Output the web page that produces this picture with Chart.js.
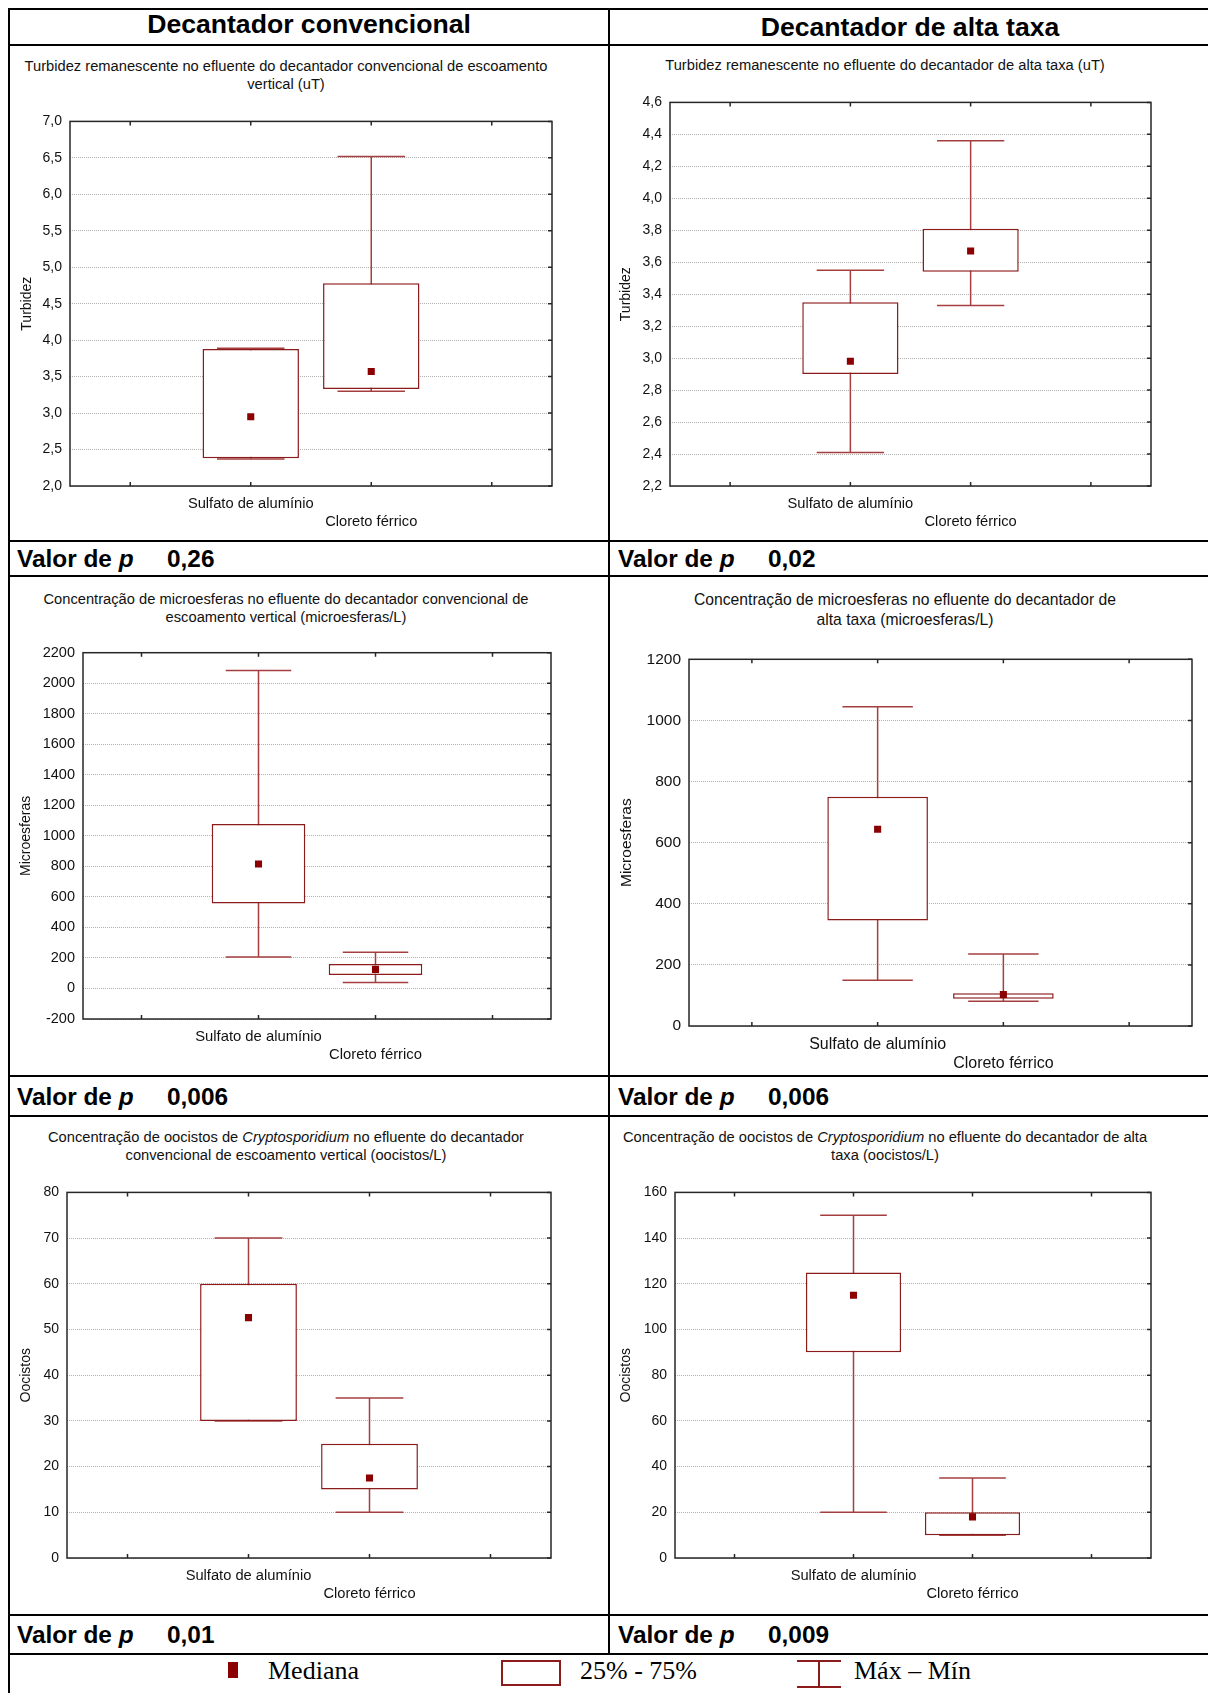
<!DOCTYPE html>
<html lang="pt">
<head>
<meta charset="utf-8">
<title>Decantador convencional x decantador de alta taxa</title>
<script src="https://cdn.jsdelivr.net/npm/chart.js@4.4.1/dist/chart.umd.min.js"></script>
<style>
  html, body { margin: 0; background: #fff; }
  body { position: relative; width: 1208px; height: 1693px; overflow: hidden;
         font-family: "Liberation Sans", Arial, sans-serif; color: #000; }
  .lh { position: absolute; left: 8px; right: 0; height: 2px; background: #000; }
  .lv { position: absolute; width: 2px; background: #000; }
  .cab { position: absolute; font-size: 26.6px; font-weight: bold; line-height: 26px;
         white-space: nowrap; transform: translateX(-50%); }
  .tit { position: absolute; font-size: 14.7px; line-height: 18px; text-align: center;
         white-space: nowrap; transform: translateX(-50%); color: #111; }
  .pv { position: absolute; font-size: 24.4px; font-weight: bold; line-height: 24px; white-space: nowrap; }
  .leg { position: absolute; font-family: "Liberation Serif", "Times New Roman", serif;
         font-size: 26px; line-height: 26px; white-space: nowrap; }
  canvas { position: absolute; }
</style>
</head>
<body>

<!-- grade da tabela -->
<div class="lh" style="top:8px"></div>
<div class="lh" style="top:44px"></div>
<div class="lh" style="top:540px"></div>
<div class="lh" style="top:575px"></div>
<div class="lh" style="top:1075px"></div>
<div class="lh" style="top:1115px"></div>
<div class="lh" style="top:1614px"></div>
<div class="lh" style="top:1653px"></div>
<div class="lv" style="left:8px; top:8px; height:1685px"></div>
<div class="lv" style="left:608px; top:8px; height:1647px"></div>

<div class="cab" style="left:309px; top:11px">Decantador convencional</div>
<div class="cab" style="left:910px; top:14px">Decantador de alta taxa</div>

<div class="tit" style="left:286px; top:57px">Turbidez remanescente no efluente do decantador convencional de escoamento<br>vertical (uT)</div>
<div class="tit" style="left:885px; top:56px">Turbidez remanescente no efluente do decantador de alta taxa (uT)</div>
<div class="tit" style="left:286px; top:590px">Concentração de microesferas no efluente do decantador convencional de<br>escoamento vertical (microesferas/L)</div>
<div class="tit" style="left:905px; top:590px; font-size:15.7px; line-height:20px">Concentração de microesferas no efluente do decantador de<br>alta taxa (microesferas/L)</div>
<div class="tit" style="left:286px; top:1128px">Concentração de oocistos de <i>Cryptosporidium</i> no efluente do decantador<br>convencional de escoamento vertical (oocistos/L)</div>
<div class="tit" style="left:885px; top:1128px">Concentração de oocistos de <i>Cryptosporidium</i> no efluente do decantador de alta<br>taxa (oocistos/L)</div>

<!-- legenda -->
<div style="position:absolute; left:228px; top:1662px; width:10px; height:16px; background:#8b0000"></div>
<div class="leg" style="left:268px; top:1658px">Mediana</div>
<div style="position:absolute; left:501px; top:1660px; width:56px; height:22px; border:2px solid #8c1b1b"></div>
<div class="leg" style="left:580px; top:1658px">25% - 75%</div>
<div style="position:absolute; left:797px; top:1660px; width:44px; height:2px; background:#8c1b1b"></div>
<div style="position:absolute; left:818px; top:1660px; width:2px; height:27px; background:#8c1b1b"></div>
<div style="position:absolute; left:797px; top:1686px; width:44px; height:2px; background:#8c1b1b"></div>
<div class="leg" style="left:854px; top:1658px">Máx – Mín</div>

<script>
const categorias = ['Sulfato de alumínio', 'Cloreto férrico'];

// cada linha: mínimo, 25%, mediana, 75%, máximo
const turbConv = [[2.37, 2.38, 2.95, 3.88, 3.89], [3.30, 3.33, 3.57, 4.78, 6.52]];
const turbAlta = [[2.41, 2.90, 2.98, 3.35, 3.55], [3.33, 3.54, 3.67, 3.81, 4.36]];
const microConv = [[206, 556, 815, 1077, 2083], [39, 89, 125, 161, 238]];
const microAlta = [[150, 345, 644, 750, 1045], [81, 89, 103, 107, 236]];
const oocConv = [[30, 30, 52.6, 60, 70], [10, 15, 17.5, 25, 35]];
const oocAlta = [[20, 90, 115, 125, 150], [10, 10, 18, 20, 35]];

// eixo y: mínimo, máximo, passo
const eixoTurbConv = [2, 7, 0.5];
const eixoTurbAlta = [2.2, 4.6, 0.2];
const eixoMicroConv = [-200, 2200, 200];
const eixoMicroAlta = [0, 1200, 200];
const eixoOocConv = [0, 80, 10];
const eixoOocAlta = [0, 160, 20];

const valoresP = ['0,26', '0,02', '0,006', '0,006', '0,01', '0,009'];

const VINHO = '#8b0000';
const CAIXA = '#8c1b1b';
const HASTE = '#a53f3f';

Chart.defaults.font.family = '"Liberation Sans", Arial, sans-serif';
Chart.defaults.color = '#111';

// moldura do gráfico com marcas de divisão voltadas para dentro
const moldura = {
  id: 'moldura',
  afterDraw(chart) {
    const { ctx, chartArea: a, scales: { x, y } } = chart;
    ctx.save();
    ctx.strokeStyle = '#262626';
    ctx.lineWidth = 1.5;
    ctx.strokeRect(a.left, a.top, a.width, a.height);
    ctx.beginPath();
    x.ticks.forEach((t, i) => {
      const px = x.getPixelForTick(i);
      ctx.moveTo(px, a.top); ctx.lineTo(px, a.top + 4);
      ctx.moveTo(px, a.bottom); ctx.lineTo(px, a.bottom - 4);
    });
    y.ticks.forEach((t, i) => {
      const py = y.getPixelForTick(i);
      ctx.moveTo(a.right, py); ctx.lineTo(a.right - 4, py);
    });
    ctx.stroke();
    ctx.restore();
  }
};

function virgula(v, casas) {
  return v.toFixed(casas).replace('.', ',');
}

function graficoCaixa(dados, eixo, casas, tituloY, g) {
  const [esq, topo, dir, base] = g.area;
  const x0 = g.col, y0 = topo - 16;
  const cv = document.createElement('canvas');
  cv.width = dir + 10 - x0;
  cv.height = base + 46 - y0;
  cv.style.left = x0 + 'px';
  cv.style.top = y0 + 'px';
  document.body.appendChild(cv);

  const capa = (dir - esq) * 0.07;
  const hastes = categorias.map((c, i) => ({
    type: 'line',
    label: 'Máx – Mín',
    data: [{ x: c, y: dados[i][0] }, { x: c, y: dados[i][4] }],
    borderColor: HASTE, borderWidth: 1.5, fill: false,
    pointStyle: 'line', pointRadius: capa,
    pointBorderColor: HASTE, pointBorderWidth: 1.5,
    order: 3
  }));

  new Chart(cv, {
    type: 'bar',
    data: {
      labels: ['', ...categorias, ''],
      datasets: [
        {
          type: 'scatter', label: 'Mediana',
          data: categorias.map((c, i) => ({ x: c, y: dados[i][2] })),
          pointStyle: 'rect', pointRadius: 5,
          pointBackgroundColor: VINHO, pointBorderWidth: 0,
          order: 1
        },
        {
          type: 'bar', label: '25% - 75%',
          data: categorias.map((c, i) => ({ x: c, y: [dados[i][1], dados[i][3]] })),
          backgroundColor: '#fff', borderColor: CAIXA, borderWidth: 1.5, borderSkipped: false,
          barPercentage: 0.8, categoryPercentage: 1,
          order: 2
        },
        ...hastes
      ]
    },
    options: {
      responsive: false,
      animation: false,
      layout: { autoPadding: false, padding: { top: 16, right: 10, left: 0, bottom: 0 } },
      plugins: { legend: { display: false }, tooltip: { enabled: false } },
      scales: {
        x: {
          type: 'category', offset: true,
          grid: { display: false, drawTicks: false }, border: { display: false },
          ticks: {
            autoSkip: false, maxRotation: 0, minRotation: 0, padding: 9,
            font: { size: g.fonteX },
            callback(v, i) {
              const t = this.getLabelForValue(v);
              return i === 2 ? ['', t] : t;
            }
          },
          afterFit: s => { s.height = 46; }
        },
        y: {
          type: 'linear', min: eixo[0], max: eixo[1],
          grid: { color: 'rgba(0,0,0,0.3)', lineWidth: 1, drawTicks: false },
          border: { display: false, dash: [1, 1] },
          ticks: {
            stepSize: eixo[2], maxTicksLimit: 40, autoSkip: false, padding: 8,
            font: { size: g.fonte },
            callback: v => virgula(v, casas)
          },
          title: {
            display: true, text: tituloY, font: { size: g.fonteY },
            padding: { top: g.ty - x0 - g.fonteY * 0.6, bottom: 0 }
          },
          afterFit: s => { s.width = esq - x0; }
        }
      }
    },
    plugins: [moldura]
  });
}

graficoCaixa(turbConv, eixoTurbConv, 1, 'Turbidez',
  { col: 11, area: [70, 121, 552, 486], ty: 27, fonte: 14, fonteX: 14.7, fonteY: 14 });
graficoCaixa(turbAlta, eixoTurbAlta, 1, 'Turbidez',
  { col: 611, area: [670, 102, 1151, 486], ty: 626, fonte: 14, fonteX: 14.7, fonteY: 14 });
graficoCaixa(microConv, eixoMicroConv, 0, 'Microesferas',
  { col: 11, area: [83, 652, 551, 1019], ty: 26.5, fonte: 14.5, fonteX: 14.8, fonteY: 14 });
graficoCaixa(microAlta, eixoMicroAlta, 0, 'Microesferas',
  { col: 611, area: [689, 658, 1192, 1026], ty: 627, fonte: 15.5, fonteX: 16, fonteY: 15.5 });
graficoCaixa(oocConv, eixoOocConv, 0, 'Oocistos',
  { col: 11, area: [67, 1192, 551, 1558], ty: 26.5, fonte: 14, fonteX: 14.7, fonteY: 14 });
graficoCaixa(oocAlta, eixoOocAlta, 0, 'Oocistos',
  { col: 611, area: [675, 1192, 1151, 1558], ty: 626, fonte: 14, fonteX: 14.7, fonteY: 14 });

// linhas "Valor de p"
const topoLinhaP = [547, 1085, 1623];
valoresP.forEach((p, i) => {
  const lin = Math.floor(i / 2), col = i % 2;
  const esq = col === 0 ? 17 : 618;
  const rot = document.createElement('div');
  rot.className = 'pv';
  rot.style.left = esq + 'px';
  rot.style.top = topoLinhaP[lin] + 'px';
  rot.innerHTML = 'Valor de <i>p</i>';
  document.body.appendChild(rot);
  const val = document.createElement('div');
  val.className = 'pv';
  val.style.left = (esq + 150) + 'px';
  val.style.top = topoLinhaP[lin] + 'px';
  val.textContent = p;
  document.body.appendChild(val);
});
</script>
</body>
</html>
